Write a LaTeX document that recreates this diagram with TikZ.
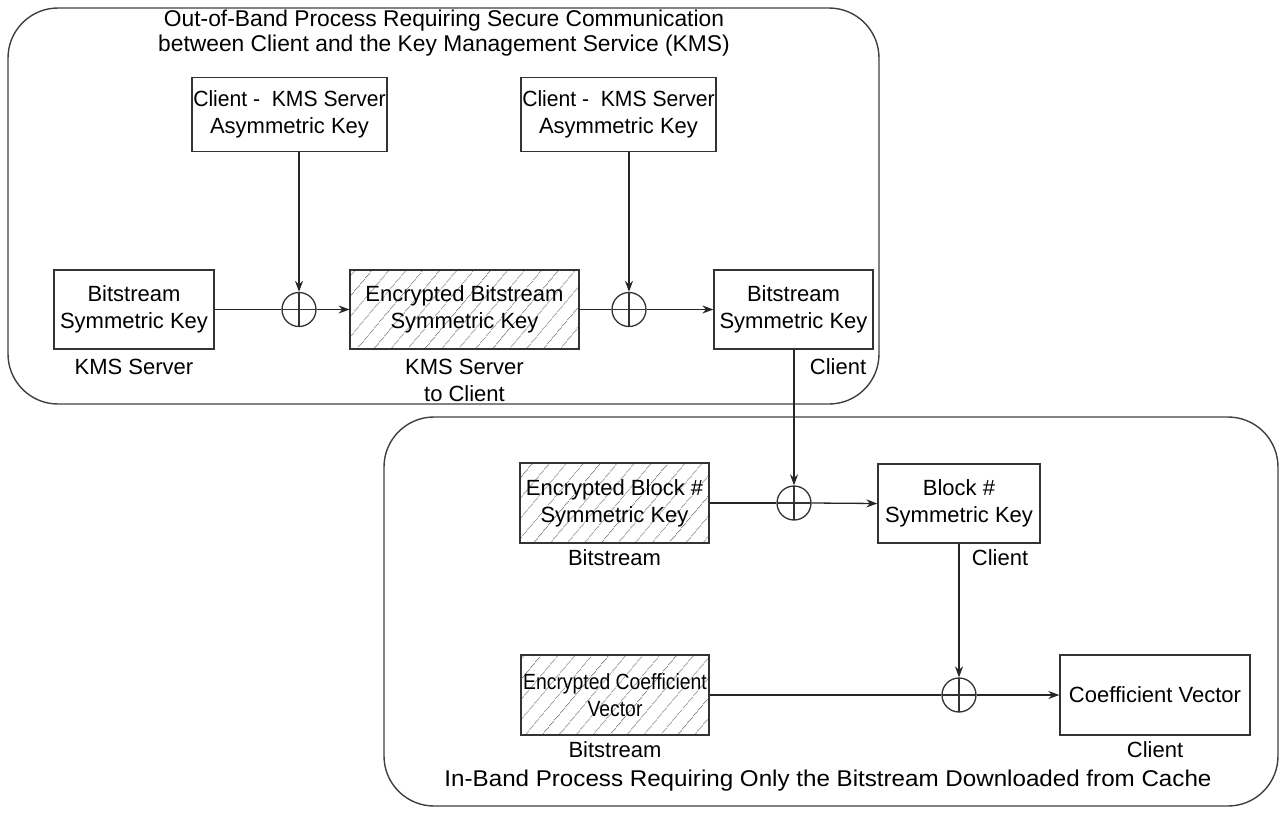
\documentclass[tikz,border=0pt]{standalone}
\usepackage{fontspec}
\usepackage{graphicx}
\setmainfont{Liberation Sans}
\usetikzlibrary{arrows.meta,patterns.meta}
\newcommand{\cnd}[2][0.88]{\scalebox{#1}[1]{#2}}
\begin{document}
\begin{tikzpicture}[x=1pt,y=-1pt,
  font=\fontsize{22}{27}\selectfont,
  line width=1.3pt, draw=black!85,
  container/.style={draw=black!75, line width=1.4pt, rounded corners=50pt},
  keybox/.style={draw=black!80, line width=1.3pt, inner sep=0pt, align=center, minimum width=#1},
  keybox/.default=160pt,
  hatched/.style={pattern={Lines[angle=50,distance=13pt,line width=0.8pt]}, pattern color=black!45},
  xor/.style={circle, draw=black!80, line width=1.3pt, minimum size=34pt, inner sep=0pt,
    path picture={\draw[line width=1.3pt] (path picture bounding box.north) -- (path picture bounding box.south)
      (path picture bounding box.west) -- (path picture bounding box.east);}},
  arr/.style={-{Stealth[length=11pt,width=8pt]}, line width=1.3pt, draw=black!85},
  conn/.style={line width=1.3pt, draw=black!85},
  lbl/.style={inner sep=0pt, align=center},
  title/.style={inner sep=0pt, align=center, font=\fontsize{22.8}{25}\selectfont}
]
\useasboundingbox (0,0) rectangle (1286,814);

% containers
\draw[container] (8,8) rectangle (879,404);
\draw[container] (384,417) rectangle (1278,806);

\node[title] (toptitle) at (444,33) {Out-of-Band Process Requiring Secure Communication\\between Client and the Key Management Service (KMS)};
\node[title] (bottitle) at (828,781) {\scalebox{1.06}[1]{In-Band Process Requiring Only the Bitstream Downloaded from Cache}};

% top row
\node[keybox=195pt, minimum height=74pt] (a1) at (289.5,114.5) {\cnd[0.96]{Client -\ \ KMS Server}\\Asymmetric Key};
\node[keybox=195pt, minimum height=74pt] (a2) at (618.5,114.5) {\cnd[0.96]{Client -\ \ KMS Server}\\Asymmetric Key};

\node[keybox=160pt, minimum height=79pt] (b1) at (134,309.5) {Bitstream\\Symmetric Key};
\node[xor] (x1) at (299,309.5) {};
\node[keybox=229pt, minimum height=79pt, hatched] (e1) at (464.5,309.5) {Encrypted Bitstream\\Symmetric Key};
\node[xor] (x2) at (629,309.5) {};
\node[keybox=159pt, minimum height=79pt] (b2) at (793.5,309.5) {Bitstream\\Symmetric Key};

\node[lbl] (lb1) at (134,367) {KMS Server};
\node[lbl] (le1) at (464.5,380) {KMS Server\\to Client};
\node[lbl] (lb2) at (838,367) {Client};

\draw[arr] (x1 |- a1.south) -- (x1.north);
\draw[arr] (x2 |- a2.south) -- (x2.north);
\draw[conn] (b1.east) -- (x1.west);
\draw[arr] (x1.east) -- (e1.west);
\draw[conn] (e1.east) -- (x2.west);
\draw[arr] (x2.east) -- (b2.west);

% bottom
\node[keybox=189pt, minimum height=80pt, hatched] (e2) at (614.5,503) {Encrypted Block \#\\Symmetric Key};
\node[xor] (x3) at (794,503) {};
\node[keybox=162pt, minimum height=79pt] (k) at (959,503.5) {Block \#\\Symmetric Key};
\node[lbl] (le2) at (614.5,558) {Bitstream};
\node[lbl] (lk) at (1000,558) {Client};

\draw[arr] (x3 |- b2.south) -- (x3.north);
\draw[conn] (e2.east) -- (x3.west);
\draw[arr] (x3.east) -- (k.west);

\node[keybox=188pt, minimum height=80pt, hatched] (e3) at (615,695) {\cnd{Encrypted Coefficient}\\\cnd{Vector}};
\node[xor] (x4) at (959,695) {};
\node[keybox=190pt, minimum height=80pt] (cv) at (1155,695) {Coefficient Vector};
\node[lbl] (le3) at (615,750) {Bitstream};
\node[lbl] (lcv) at (1155,750) {Client};

\draw[arr] (x4 |- k.south) -- (x4.north);
\draw[conn] (e3.east) -- (x4.west);
\draw[arr] (x4.east) -- (cv.west);
\end{tikzpicture}
\end{document}
